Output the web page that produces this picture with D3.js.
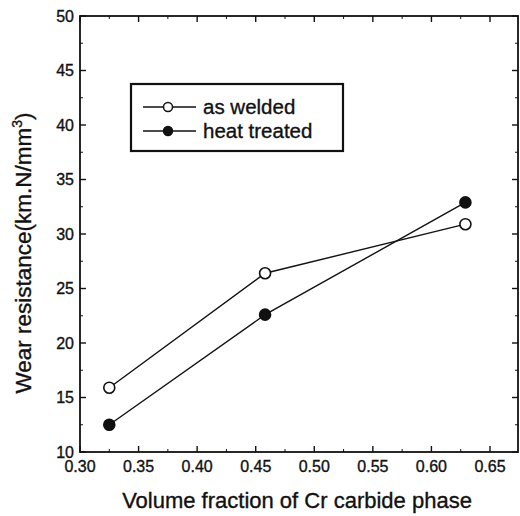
<!DOCTYPE html>
<html>
<head>
<meta charset="utf-8">
<script src="https://cdn.jsdelivr.net/npm/d3@7"></script>
<style>
  body { margin: 0; background: #fff; }
  text { font-family: "Liberation Sans", Arial, sans-serif; fill: #111; stroke: #111; stroke-width: 0.35; }
</style>
</head>
<body>
<svg id="chart" width="520" height="516"></svg>
<script>
const fractions = [0.325, 0.458, 0.629]
const asWelded = [15.9, 26.4, 30.9]
const heatTreated = [12.5, 22.6, 32.9]
const xTicks = [0.30, 0.35, 0.40, 0.45, 0.50, 0.55, 0.60, 0.65]
const yTicks = [10, 15, 20, 25, 30, 35, 40, 45, 50]
const seriesNames = ['as welded', 'heat treated']

const svg = d3.select('#chart')
const mLeft = 80, mRight = 518, mTop = 16, mBottom = 452

const x = d3.scaleLinear().domain([0.30, 0.30 + (mRight - mLeft) / (490 - mLeft) * 0.35]).range([mLeft, mRight])
const y = d3.scaleLinear().domain([10, 50]).range([mBottom, mTop])

const g = svg.append('g')

// frame
g.append('rect')
  .attr('x', mLeft).attr('y', mTop)
  .attr('width', mRight - mLeft).attr('height', mBottom - mTop)
  .attr('fill', 'none').attr('stroke', '#111').attr('stroke-width', 1.8)

// ticks (inward), major + minor
const xMinor = d3.range(0.325, 0.675, 0.05)
const yMinor = d3.range(12.5, 50, 5)
xTicks.forEach(v => {
  g.append('line').attr('x1', x(v)).attr('x2', x(v)).attr('y1', mBottom).attr('y2', mBottom - 6).attr('stroke', '#111').attr('stroke-width', 1.4)
  g.append('line').attr('x1', x(v)).attr('x2', x(v)).attr('y1', mTop).attr('y2', mTop + 6).attr('stroke', '#111').attr('stroke-width', 1.4)
})
xMinor.forEach(v => {
  g.append('line').attr('x1', x(v)).attr('x2', x(v)).attr('y1', mBottom).attr('y2', mBottom - 3).attr('stroke', '#111')
  g.append('line').attr('x1', x(v)).attr('x2', x(v)).attr('y1', mTop).attr('y2', mTop + 3).attr('stroke', '#111')
})
yTicks.forEach(v => {
  g.append('line').attr('x1', mLeft).attr('x2', mLeft + 6).attr('y1', y(v)).attr('y2', y(v)).attr('stroke', '#111').attr('stroke-width', 1.4)
  g.append('line').attr('x1', mRight).attr('x2', mRight - 6).attr('y1', y(v)).attr('y2', y(v)).attr('stroke', '#111').attr('stroke-width', 1.4)
})
yMinor.forEach(v => {
  g.append('line').attr('x1', mLeft).attr('x2', mLeft + 3).attr('y1', y(v)).attr('y2', y(v)).attr('stroke', '#111')
  g.append('line').attr('x1', mRight).attr('x2', mRight - 3).attr('y1', y(v)).attr('y2', y(v)).attr('stroke', '#111')
})

// tick labels
g.selectAll('.xl').data(xTicks).enter().append('text')
  .attr('x', d => x(d)).attr('y', mBottom + 20)
  .attr('text-anchor', 'middle').attr('font-size', 16)
  .text(d => d.toFixed(2))
g.selectAll('.yl').data(yTicks).enter().append('text')
  .attr('x', mLeft - 6).attr('y', d => y(d) + 5.5)
  .attr('text-anchor', 'end').attr('font-size', 16)
  .text(d => d)

// axis titles
g.append('text')
  .attr('x', 297).attr('y', 508)
  .attr('text-anchor', 'middle').attr('font-size', 22)
  .text('Volume fraction of Cr carbide phase')
const yt = g.append('text')
  .attr('transform', 'translate(31,253) rotate(-90)')
  .attr('text-anchor', 'middle').attr('font-size', 22.5)
yt.append('tspan').text('Wear resistance(km.N/mm')
yt.append('tspan').attr('font-size', 14).attr('dy', -9).text('3')
yt.append('tspan').attr('dy', 9).text(')')

// series
const line = d3.line().x(d => x(d[0])).y(d => y(d[1]))
const series = [
  { name: seriesNames[0], values: asWelded, fill: '#fff' },
  { name: seriesNames[1], values: heatTreated, fill: '#111' }
]
series.forEach(s => {
  const pts = fractions.map((f, i) => [f, s.values[i]])
  g.append('path').attr('d', line(pts)).attr('fill', 'none').attr('stroke', '#111').attr('stroke-width', 1.4)
  g.selectAll(null).data(pts).enter().append('circle')
    .attr('cx', d => x(d[0])).attr('cy', d => y(d[1])).attr('r', 5.5)
    .attr('fill', s.fill).attr('stroke', '#111').attr('stroke-width', 1.6)
})

// legend
const lg = g.append('g')
lg.append('rect').attr('x', 131).attr('y', 84).attr('width', 212).attr('height', 67)
  .attr('fill', '#fff').attr('stroke', '#111').attr('stroke-width', 2.2)
series.forEach((s, i) => {
  const ly = 107 + i * 24
  lg.append('line').attr('x1', 143).attr('x2', 196).attr('y1', ly).attr('y2', ly).attr('stroke', '#111').attr('stroke-width', 1.4)
  lg.append('circle').attr('cx', 168).attr('cy', ly).attr('r', 4.5)
    .attr('fill', s.fill).attr('stroke', '#111').attr('stroke-width', 1.5)
  lg.append('text').attr('x', 203).attr('y', ly + 6.5).attr('font-size', 20.5).text(s.name)
})
</script>
</body>
</html>
